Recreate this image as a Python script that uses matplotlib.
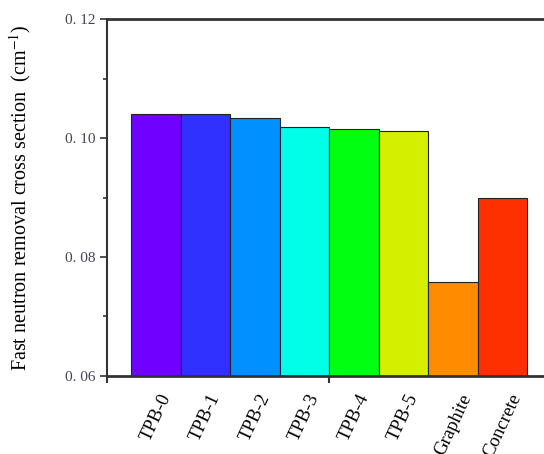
import matplotlib
matplotlib.use("Agg")
import matplotlib.pyplot as plt
from matplotlib.ticker import FixedLocator

# Fast neutron removal cross sections (cm^-1)
categories = ["TPB-0", "TPB-1", "TPB-2", "TPB-3", "TPB-4", "TPB-5", "Graphite", "Concrete"]
values = [0.1040, 0.1040, 0.1033, 0.1019, 0.1015, 0.1011, 0.0758, 0.0900]
colors = ["#7000FF", "#3030FF", "#0090FF", "#00FFE6", "#00FF10", "#D4F000", "#FF8C00", "#FF3000"]
y_ticks = [0.06, 0.08, 0.10, 0.12]
y_tick_labels = ["0. 06", "0. 08", "0. 10", "0. 12"]

plt.rcParams["mathtext.fontset"] = "stix"

fig = plt.figure(figsize=(5.44, 4.54), dpi=100)
ax = fig.add_axes([107 / 544, 78 / 454, 444 / 544, 357 / 454])

x = list(range(len(categories)))
ax.bar(x, [v - 0.06 for v in values], bottom=0.06, width=1.0, color=colors,
       edgecolor="#222222", linewidth=0.8)

ax.set_xlim(-0.984, 7.976)
ax.set_ylim(0.06, 0.12)

axis_color = "#333333"
for side in ("left", "top", "bottom"):
    ax.spines[side].set_color(axis_color)
ax.spines["left"].set_linewidth(1.5)
ax.spines["top"].set_linewidth(2.0)
ax.spines["bottom"].set_linewidth(2.0)
ax.spines["right"].set_visible(False)

# y axis
ax.set_yticks(y_ticks)
ax.set_yticklabels(y_tick_labels, fontfamily="Liberation Serif", fontsize=11, color="#444455")
ax.yaxis.set_minor_locator(FixedLocator([0.07, 0.09, 0.11]))
ax.tick_params(axis="y", which="major", direction="out", length=5, width=1.2, color=axis_color, pad=3)
ax.tick_params(axis="y", which="minor", direction="out", length=3, width=1.2, color=axis_color)

# x axis: category labels without marks, two structural ticks
ax.set_xticks(x)
ax.set_xticklabels(categories, rotation=65, ha="center", va="top",
                   fontfamily="Liberation Serif", fontsize=13.5)
ax.xaxis.set_minor_locator(FixedLocator([-0.984, 3.5]))
ax.tick_params(axis="x", which="major", length=0, pad=11)
ax.tick_params(axis="x", which="minor", direction="out", length=5, width=1.5, color=axis_color)

ax.set_ylabel("Fast neutron removal cross section  (cm$^{-1}$)",
              fontfamily="Liberation Serif", fontsize=14.5, labelpad=23)

fig.savefig("out.png", dpi=100)
